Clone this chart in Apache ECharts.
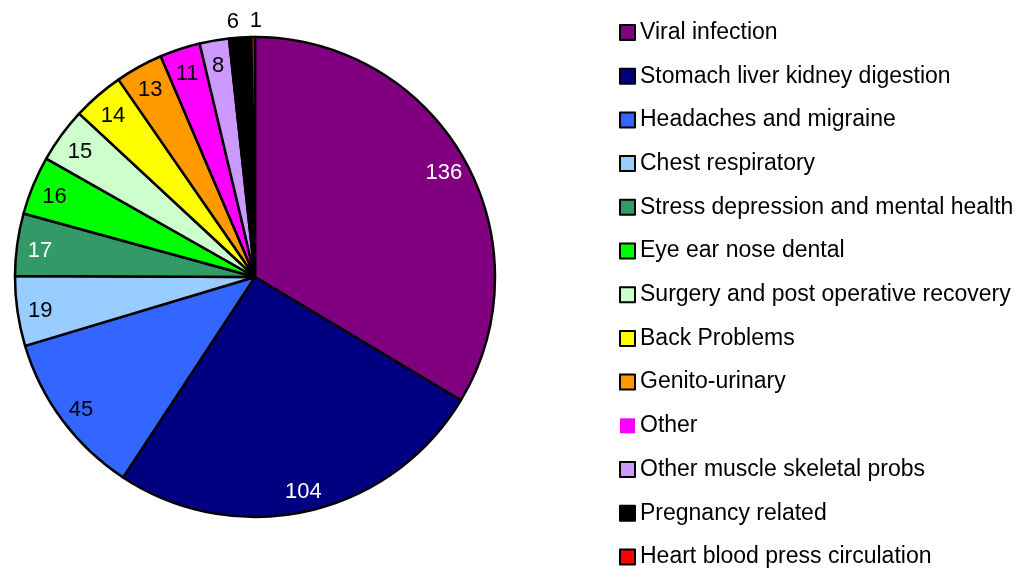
<!DOCTYPE html>
<html>
<head>
<meta charset="utf-8">
<script src="https://cdn.jsdelivr.net/npm/echarts@6/dist/echarts.min.js"></script>
<style>
  html, body { margin: 0; padding: 0; background: #fff; }
  #chart { width: 1016px; height: 569px; }
</style>
</head>
<body>
<div id="chart"></div>
<script>
// data
const categories = [
  'Viral infection',
  'Stomach liver kidney digestion',
  'Headaches and migraine',
  'Chest respiratory',
  'Stress depression and mental health',
  'Eye ear nose dental',
  'Surgery and post operative recovery',
  'Back Problems',
  'Genito-urinary',
  'Other',
  'Other muscle skeletal probs',
  'Pregnancy related',
  'Heart blood press circulation'
];
const values = [136, 104, 45, 19, 17, 16, 15, 14, 13, 11, 8, 6, 1];
const colors = ['#800080', '#000080', '#3366ff', '#99ccff', '#339966', '#00ff00', '#ccffcc',
  '#ffff00', '#ff9900', '#ff00ff', '#cc99ff', '#000000', '#ff0000'];
const labelColors = ['#fff', '#fff', '#000', '#000', '#fff', '#000', '#000',
  '#000', '#000', '#000', '#000', '#000', '#000'];
// slices too thin for an inside label
const outsideLabels = ['Pregnancy related', 'Heart blood press circulation'];

const font = 'Liberation Sans, Arial, sans-serif';
const chart = echarts.init(document.getElementById('chart'));

const sliceData = categories.map((name, i) => ({
  name: name,
  value: values[i],
  itemStyle: { color: colors[i] }
}));

const labelData = categories.map((name, i) => ({
  name: name,
  value: values[i],
  label: {
    position: outsideLabels.includes(name) ? 'outside' : 'inside',
    color: labelColors[i]
  }
}));

chart.setOption({
  animation: false,
  legend: {
    orient: 'vertical',
    left: 619,
    top: 21,
    height: 560,
    padding: 0,
    itemWidth: 15,
    itemHeight: 15,
    itemGap: 20.7,
    icon: 'rect',
    selectedMode: false,
    itemStyle: { borderColor: '#000', borderWidth: 2 },
    textStyle: { fontFamily: font, fontSize: 23, color: '#000' },
    data: categories.map(name => name === 'Other'
      ? { name: name, itemStyle: { borderWidth: 0 } }
      : name)
  },
  series: [
    {
      type: 'pie',
      center: [255, 277],
      radius: 240,
      startAngle: 90,
      clockwise: true,
      avoidLabelOverlap: false,
      silent: true,
      itemStyle: { borderColor: '#000', borderWidth: 2.5 },
      label: { show: false },
      labelLine: { show: false },
      data: sliceData
    },
    {
      // invisible ring that only carries the value labels
      type: 'pie',
      center: [255, 280],
      radius: [188, 240],
      startAngle: 90,
      clockwise: true,
      avoidLabelOverlap: false,
      silent: true,
      itemStyle: { color: 'rgba(0,0,0,0)', borderWidth: 0 },
      label: {
        show: true,
        formatter: '{c}',
        fontFamily: font,
        fontSize: 22,
        distanceToLabelLine: 0
      },
      labelLine: { show: false, length: 19, length2: 0 },
      // the "1" sits over its own thin slice, clear of the "6"
      labelLayout: function (params) {
        if (categories[params.dataIndex] === 'Heart blood press circulation') {
          return { dx: 9 };
        }
        return {};
      },
      data: labelData
    }
  ]
});
</script>
</body>
</html>
